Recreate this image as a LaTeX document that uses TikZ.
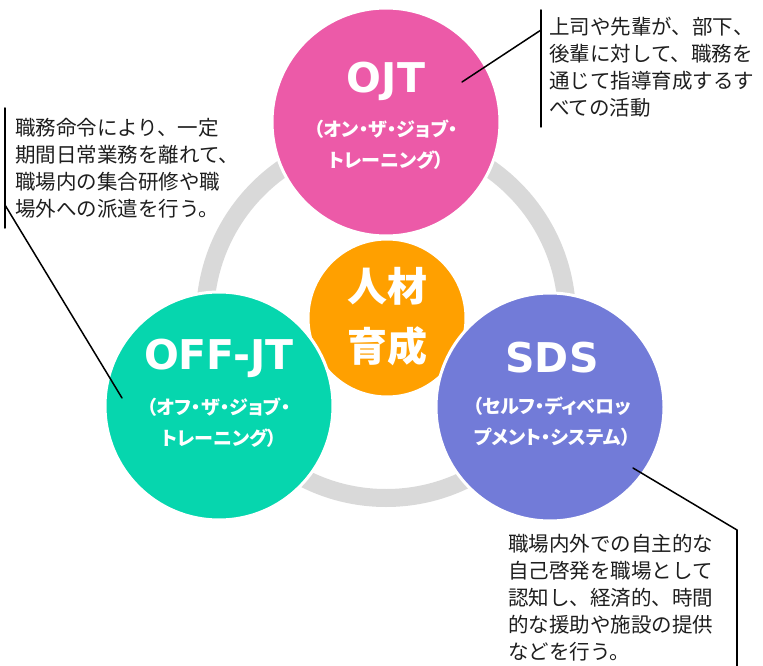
\documentclass[tikz,border=0pt]{standalone}
\usepackage{fontspec}
\setmainfont{Noto Sans CJK JP}
\newfontfamily\titlefont{DejaVu Sans}
\newfontfamily\subfont{Noto Sans CJK JP}[RawFeature = {+palt}]

\definecolor{ojtpink}{RGB}{236,90,168}
\definecolor{offteal}{RGB}{6,214,174}
\definecolor{sdsblue}{RGB}{114,123,216}
\definecolor{coreorange}{RGB}{255,160,0}
\definecolor{ringgray}{RGB}{217,217,217}
\definecolor{notetext}{RGB}{30,30,30}

\tikzset{
	bubble/.style = {circle, draw = white, line width = 3pt, inner sep = 0pt, outer sep = 0pt, minimum size = 228pt},
	bubbletitle/.style = {text = white, inner sep = 0pt, font = \titlefont\bfseries\fontsize{41}{41}\selectfont},
	bubblesub/.style = {text = white, inner sep = 0pt, align = center, font = \subfont\bfseries\fontsize{19}{31}\selectfont},
	note/.style = {anchor = north west, inner sep = 0pt, align = left, text = notetext, font = \fontsize{20.5}{27}\selectfont},
	leader/.style = {line width = 1.5pt, draw = black}
}

\begin{document}
\begin{tikzpicture}[x = 1pt, y = -1pt, line join = round, line cap = round]
			\useasboundingbox (0,0) rectangle (763,666);
			%		\draw[gray!50,xstep = 50, ystep = 50] (0,0) grid (763,666);
			
			\draw[ringgray, line width = 18pt] (386,317) circle[radius = 181];
			
			\node[circle, draw = white, line width = 3pt, fill = coreorange, inner sep = 0pt, minimum size = 158pt] (core) at (387,318) {};
			\node[bubble, fill = ojtpink] (ojt) at (386,122) {};
			\node[bubble, fill = offteal] (offjt) at (219,406) {};
			\node[bubble, fill = sdsblue] (sds) at (550,407) {};
			
			\path
			(387,317) node[text = white, inner sep = 0pt, align = center, font = \bfseries\fontsize{40}{60}\selectfont] (coretext) {人材\\育成}
			(386,81) node[bubbletitle] (ojttitle) {OJT}
			(386,145) node[bubblesub] (ojtsub) {（オン・ザ・ジョブ・\\トレーニング）}
			(219,358) node[bubbletitle] (offjttitle) {OFF-JT}
			(219,423) node[bubblesub] (offjtsub) {（オフ・ザ・ジョブ・\\トレーニング）}
			(552,358) node[bubbletitle] (sdstitle) {SDS}
			(552,422) node[bubblesub] (sdssub) {（セルフ・ディベロッ\\プメント・システム）}
			;
			
			\node[note] (ojtnote) at (549,17) {上司や先輩が、部下、\\後輩に対して、職務を\\通じて指導育成するす\\べての活動};
			\node[note] (offjtnote) at (15,118) {職務命令により、一定\\期間日常業務を離れて、\\職場内の集合研修や職\\場外への派遣を行う。};
			\node[note] (sdsnote) at (508,534) {職場内外での自主的な\\自己啓発を職場として\\認知し、経済的、時間\\的な援助や施設の提供\\などを行う。};
			
			% leader lines
			\coordinate (ojtpin) at (462,82);
			\coordinate (ojtknee) at (541,30);
			\coordinate (ojttop) at (541,10);
			\coordinate (ojtbot) at (541,127);
			\draw[leader] (ojtpin) -- (ojtknee);
			\draw[leader] (ojttop) -- (ojtbot);
			
			\coordinate (offjtpin) at (122,398);
			\coordinate (offjtknee) at (5,205);
			\coordinate (offjttop) at (5,108);
			\coordinate (offjtbot) at (5,228);
			\draw[leader] (offjtpin) -- (offjtknee);
			\draw[leader] (offjttop) -- (offjtbot);
			
			\coordinate (sdspin) at (633,468);
			\coordinate (sdsknee) at (737,530);
			\coordinate (sdsbot) at (737,666);
			\draw[leader] (sdspin) -- (sdsknee);
			\draw[leader] (sdsknee) -- (sdsbot);
		\end{tikzpicture}
\end{document}
